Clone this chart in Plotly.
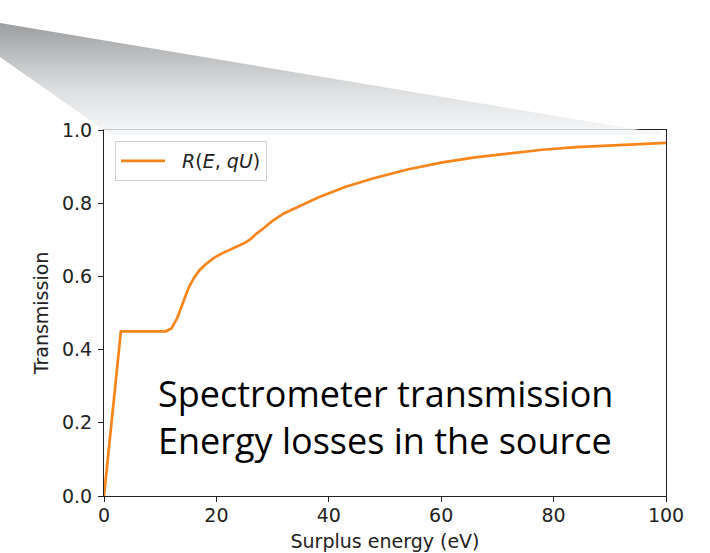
import plotly.graph_objects as go

# ---- data ----
surplus_energy = [0, 3.0, 11.0, 12.0, 13.0, 14.0, 15.0, 16.0, 17.0, 18.0, 19.5, 21.0, 22.5,
                  24.0, 25.0, 26.0, 27.0, 28.5, 30.0, 32.0, 34.5, 38.0, 43.0, 48.0, 54.0,
                  60.0, 66.0, 72.0, 78.0, 84.0, 90.0, 95.0, 100.0]
transmission = [0.0, 0.450, 0.450, 0.458, 0.485, 0.528, 0.567, 0.596, 0.617, 0.632, 0.650,
                0.663, 0.673, 0.684, 0.691, 0.701, 0.715, 0.733, 0.752, 0.772, 0.790, 0.815,
                0.845, 0.868, 0.892, 0.911, 0.925, 0.936, 0.946, 0.953, 0.958, 0.962, 0.965]
x_ticks = [0, 20, 40, 60, 80, 100]
y_ticks = [0.0, 0.2, 0.4, 0.6, 0.8, 1.0]
y_tick_labels = ["0.0", "0.2", "0.4", "0.6", "0.8", "1.0"]
legend_label = "&nbsp;&nbsp;<i>R</i>(<i>E</i>, <i>qU</i>)"
caption_lines = ["Spectrometer transmission", "Energy losses in the source"]

# decorative zoom wedge (figure pixel coordinates)
wedge_x = [0, 640, 660, 660, 111, 0, 0]
wedge_y = [23, 130, 131, 135, 135, 57, 23]

W, H = 710, 553
L, R, T, B = 104, 666, 130, 496

fig = go.Figure()

fig.add_trace(go.Scatter(
    x=surplus_energy, y=transmission, mode="lines", name=legend_label,
    line=dict(color="#f8841c", width=2.7), xaxis="x", yaxis="y",
))

fig.add_trace(go.Scatter(
    x=wedge_x, y=wedge_y, mode="lines", fill="toself", line=dict(width=0),
    fillgradient=dict(type="vertical", start=23, stop=135,
                      colorscale=[[0, "rgba(150,152,154,0.95)"], [0.6, "rgba(215,217,219,0.85)"],
                                  [1, "rgba(245,246,247,0.8)"]]),
    showlegend=False, hoverinfo="skip", xaxis="x2", yaxis="y2",
))

font_main = "DejaVu Sans"
axis_common = dict(showline=True, linecolor="#222", linewidth=1.2, mirror=True,
                   ticks="outside", ticklen=5, tickwidth=1.2, tickcolor="#222",
                   showgrid=False, zeroline=False, automargin=False,
                   tickfont=dict(family=font_main, size=19, color="#222"))

fig.update_layout(
    width=W, height=H, margin=dict(l=0, r=0, t=0, b=0, pad=0, autoexpand=False),
    paper_bgcolor="white", plot_bgcolor="rgba(0,0,0,0)",
    xaxis=dict(domain=[L / W, R / W], range=[0, 100], tickvals=x_ticks, ticklabelstandoff=-3,
               title=dict(text="Surplus energy (eV)", font=dict(family=font_main, size=19, color="#222"),
                          standoff=9),
               anchor="y", **axis_common),
    yaxis=dict(domain=[1 - B / H, 1 - T / H], range=[0, 1], tickvals=y_ticks, ticktext=y_tick_labels,
               ticklabelstandoff=2,
               title=dict(text="Transmission", font=dict(family=font_main, size=19, color="#222"),
                          standoff=8),
               anchor="x", **axis_common),
    xaxis2=dict(domain=[0, 1], range=[0, W], visible=False, anchor="y2", fixedrange=True),
    yaxis2=dict(domain=[0, 1], range=[H, 0], visible=False, anchor="x2", fixedrange=True),
    legend=dict(x=115 / W, y=1 - 141 / H, xanchor="left", yanchor="top", itemwidth=44,
                bgcolor="rgba(255,255,255,0.85)", bordercolor="#d0d0d0", borderwidth=1,
                font=dict(family=font_main, size=19, color="#222")),
    showlegend=True,
)

fig.add_annotation(x=156, y=417, xref="x2", yref="y2", text="<br>".join(caption_lines),
                   showarrow=False, xanchor="left", yanchor="middle", align="left",
                   font=dict(family="Open Sans", size=36, color="black"))

fig.write_html("out.html")
